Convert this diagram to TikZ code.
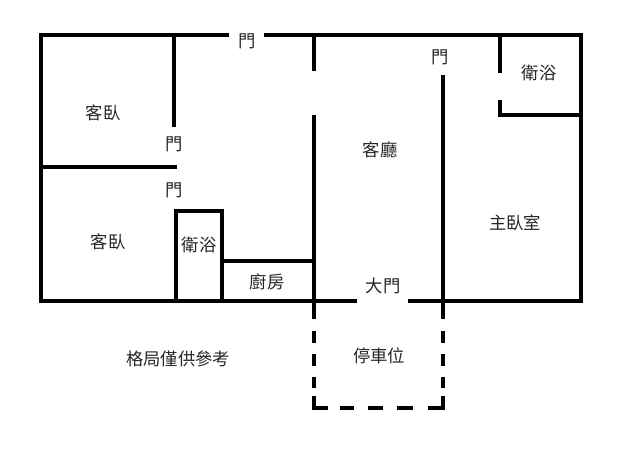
\documentclass[tikz,border=0pt]{standalone}
\usepackage{fontspec}
\newfontfamily\cjk{Noto Sans CJK TC}
\begin{document}
\begin{tikzpicture}[x=0.75pt,y=-0.75pt,
  wall/.style={line width=3.4pt},
  lbl/.style={font=\cjk\fontsize{13pt}{15pt}\selectfont, inner sep=0pt, text=black!85}]
\useasboundingbox (0,0) rectangle (640,469);
\fill[white] (0,0) rectangle (640,469);
% outer walls
\draw[wall] (229,35) -- (41,35) -- (41,301) -- (357,301);
\draw[wall] (264,35) -- (581,35) -- (581,301) -- (408,301);
% left interior walls
\draw[wall] (174,35) -- (174,127);
\draw[wall] (39,167) -- (177,167);
% left bathroom
\draw[wall] (176,303) -- (176,211) -- (222,211) -- (222,303);
% kitchen
\draw[wall] (222,261) -- (314,261);
% living room walls
\draw[wall] (314,35) -- (314,71);
\draw[wall] (314,115) -- (314,319);
\draw[wall] (443,75) -- (443,319);
% right bathroom
\draw[wall] (500,35) -- (500,73);
\draw[wall] (500,100) -- (500,115) -- (583,115);
% parking (dashed)
\draw[wall] (314,331) -- (314,343);
\draw[wall] (314,354) -- (314,366);
\draw[wall] (314,377) -- (314,388);
\draw[wall] (314,396) -- (314,408) -- (328,408);
\draw[wall] (340,408) -- (354,408);
\draw[wall] (368,408) -- (383,408);
\draw[wall] (397,408) -- (413,408);
\draw[wall] (428,408) -- (443,408) -- (443,396);
\draw[wall] (443,377) -- (443,388);
\draw[wall] (443,354) -- (443,366);
\draw[wall] (443,331) -- (443,343);
% labels
\node[lbl] (d1) at (247,41) {門};
\node[lbl] (d2) at (174,144) {門};
\node[lbl] (d3) at (174,190) {門};
\node[lbl] (d4) at (440,57) {門};
\node[lbl] (r1) at (103,113) {客臥};
\node[lbl] (r2) at (108,242) {客臥};
\node[lbl] (b1) at (199,245) {衛浴};
\node[lbl] (b2) at (539,73) {衛浴};
\node[lbl] (k) at (267,282) {廚房};
\node[lbl] (lv) at (380,150) {客廳};
\node[lbl] (mb) at (515,223) {主臥室};
\node[lbl] (md) at (383,286) {大門};
\node[lbl] (pk) at (379,356) {停車位};
\node[lbl] (nt) at (178,359) {格局僅供參考};
\end{tikzpicture}
\end{document}
